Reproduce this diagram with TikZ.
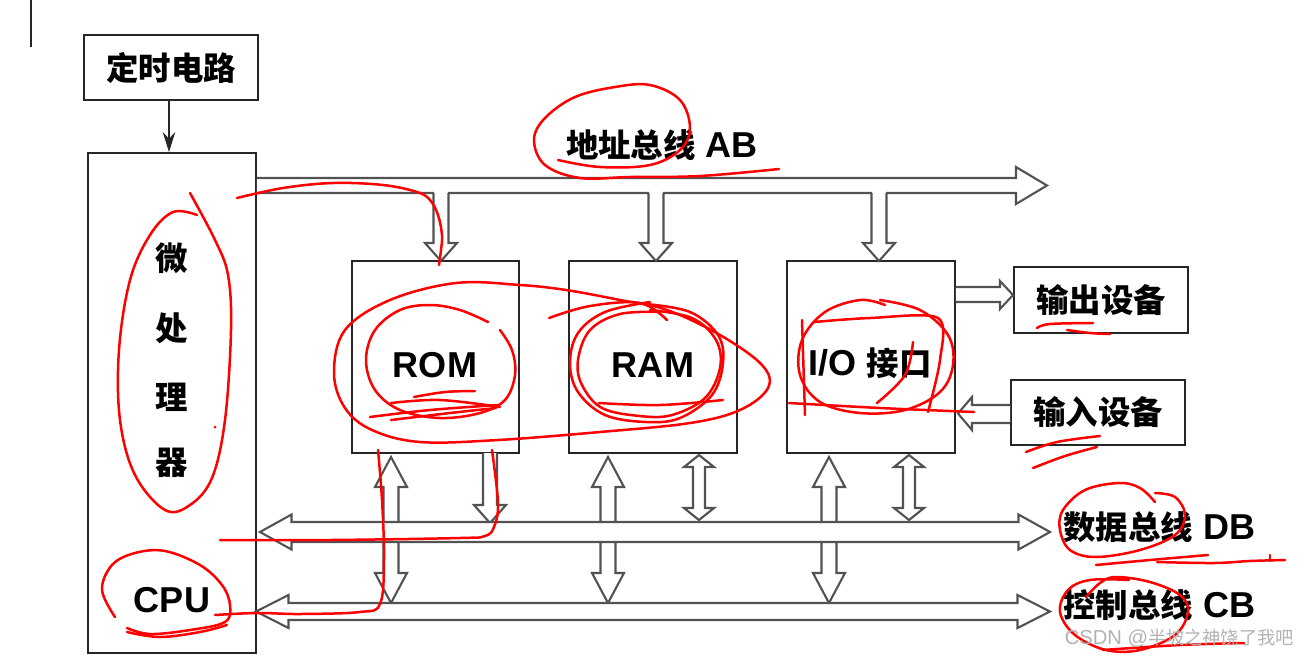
\documentclass[tikz,border=0pt]{standalone}
\usepackage{fontspec}
\setmainfont{Liberation Sans}
\newfontfamily\cjk[Scale=0.9]{Noto Sans CJK SC}
\usetikzlibrary{arrows.meta,calc}
% vertical double hollow arrow: x, top tip, bottom tip, head length, half shaft, half head
\newcommand\vdbl[6]{\filldraw[hol] (#1,#2) -- ({#1+#6},{#2+#4}) -- ({#1+#5},{#2+#4}) -- ({#1+#5},{#3-#4}) -- ({#1+#6},{#3-#4}) -- (#1,#3) -- ({#1-#6},{#3-#4}) -- ({#1-#5},{#3-#4}) -- ({#1-#5},{#2+#4}) -- ({#1-#6},{#2+#4}) -- cycle;}
% horizontal double hollow arrow: y, left tip, right tip, head length, half shaft, half head
\newcommand\hdbl[6]{\filldraw[hol] (#2,#1) -- ({#2+#4},{#1-#6}) -- ({#2+#4},{#1-#5}) -- ({#3-#4},{#1-#5}) -- ({#3-#4},{#1-#6}) -- (#3,#1) -- ({#3-#4},{#1+#6}) -- ({#3-#4},{#1+#5}) -- ({#2+#4},{#1+#5}) -- ({#2+#4},{#1+#6}) -- cycle;}
% open-top downward hollow arrow: x, top, head base, tip, half shaft, half head
\newcommand\vdown[6]{\filldraw[hol] ({#1-#5},#2) -- ({#1-#5},#3) -- ({#1-#6},#3) -- (#1,#4) -- ({#1+#6},#3) -- ({#1+#5},#3) -- ({#1+#5},#2);}
\newcommand\busgap[3]{\fill[white] ({#1-#3},{#2-1.8}) rectangle ({#1+#3},{#2+1.8});}
\begin{document}
\begin{tikzpicture}[x=0.02cm,y=-0.02cm,
  box/.style={draw=black!85, line width=0.038cm, fill=white, inner sep=0pt},
  lbl/.style={font=\fontsize{20.5}{24}\selectfont\bfseries, inner sep=0pt},
  hol/.style={draw=black!68, line width=0.042cm, fill=white, line join=miter},
  pen/.style={draw=red, line width=0.05cm, line cap=round, line join=round},
  wm/.style={font=\fontsize{11.5}{14}\selectfont, text=black!30, inner sep=0pt}]
\fill[white] (0,0) rectangle (1316,657);
\useasboundingbox (0,0) rectangle (1316,657);
\draw[black!85, line width=0.03cm] (31,0) -- (31,47);

% boxes
\node[box, lbl, minimum width=3.48cm, minimum height=1.3cm] (timer) at (171,67.5) {\cjk 定时电路};
\node[box, minimum width=3.36cm, minimum height=10cm] (cpu) at (172,403) {};
\node[box, minimum width=3.34cm, minimum height=3.84cm] (rom) at (435.5,357) {};
\node[box, minimum width=3.36cm, minimum height=3.84cm] (ram) at (653,357) {};
\node[box, minimum width=3.36cm, minimum height=3.84cm] (io) at (871,357) {};
\node[box, lbl, minimum width=3.48cm, minimum height=1.32cm] (out) at (1101,300) {\cjk 输出设备};
\node[box, lbl, minimum width=3.48cm, minimum height=1.3cm] (in) at (1098,412.5) {\cjk 输入设备};

% timer -> cpu
\draw[black!85, line width=0.035cm, -{Stealth[length=0.4cm,width=0.25cm]}] ($(timer.south)+(-2,0)$) -- ($(timer.south|-cpu.north)+(-2,0)$);

% address bus
\filldraw[hol] (cpu.east|-0,178) -- (1016,178) -- (1016,167) -- (1047,185.5) -- (1016,204) -- (1016,193) -- (cpu.east|-0,193);
\busgap{441}{193}{7}\vdown{441}{193}{243}{261}{7.5}{16}
\busgap{656}{193}{7}\vdown{656}{193}{243}{261}{7.5}{16}
\busgap{879}{193}{7}\vdown{879}{193}{243}{261}{7.5}{16}

% I/O <-> devices
\filldraw[hol] (io.east|-0,287) -- (1000,287) -- (1000,281) -- (out.west|-0,295) -- (1000,309) -- (1000,302) -- (io.east|-0,302);
\filldraw[hol] (in.west|-0,405) -- (972,405) -- (972,397) -- (958,413.5) -- (972,430) -- (972,423) -- (in.west|-0,423);

% vertical links to buses
\vdbl{391}{457}{603}{30}{7.5}{16}
\vdbl{608}{457}{603}{30}{7.5}{16}
\vdbl{829}{457}{603}{30}{7.5}{16}
\vdown{490}{453}{505}{523}{7}{16}
\vdbl{699}{455}{520}{12}{6}{15}
\vdbl{909}{455}{520}{12}{6}{15}

% data bus and control bus
\hdbl{532}{260}{1050}{31.5}{10}{17.5}
\hdbl{611.5}{256}{1050}{32.5}{8.5}{16.5}

% texts
\node[lbl] (c1) at (172,258) {\cjk 微};
\node[lbl] (c2) at (172,328) {\cjk 处};
\node[lbl] (c3) at (172,397) {\cjk 理};
\node[lbl] (c4) at (172,463) {\cjk 器};
\node[lbl] (cput) at (172,600) {CPU};
\node[lbl] (romt) at (435,365) {ROM};
\node[lbl] (ramt) at (653,365) {RAM};
\node[lbl] (iot) at (870,363) {I/O {\cjk 接口}};
\node[lbl] (ab) at (662,145) {{\cjk 地址总线} AB};
\node[lbl, anchor=west] (db) at (1063,527) {{\cjk 数据总线} DB};
\node[lbl, anchor=west] (cb) at (1063,605) {{\cjk 控制总线} CB};

% red hand annotations
\begin{scope}[pen]
\draw plot[smooth, tension=0.6] coordinates {(558,160) (600,167) (650,165) (680,150) (690,128) (680,100) (650,85) (615,87) (575,97) (545,118) (534,140) (545,165) (580,178) (630,177) (700,176) (779,169)};
\draw plot[smooth, tension=0.6] coordinates {(237,198) (283,188) (333,183) (383,185) (417,192) (430,200) (438,215) (442,235) (441,250) (439,265)};
\draw plot[smooth, tension=0.6] coordinates {(197,215) (173,212) (150,235) (130,280) (119,350) (120,420) (135,475) (165,510) (190,505) (212,478) (225,420) (231,330) (228,275) (215,240) (190,193)};
\fill[red] (215,427) circle[radius=0.03cm];
\draw plot[smooth, tension=0.6] coordinates {(115,617) (102,590) (112,565) (135,553) (165,551) (200,565) (222,585) (230,605) (225,622) (190,630) (150,634) (127,628)};
\draw plot[smooth, tension=0.6] coordinates {(127,632) (160,637) (200,632) (227,625)};
\draw plot[smooth, tension=0.6] coordinates {(215,615) (257,613) (300,614) (360,612) (380,604) (384,560) (382,500) (378,450)};
\draw plot[smooth, tension=0.6] coordinates {(220,540) (330,540) (460,538) (485,536) (494,527) (498,503) (492,450)};
\draw plot[smooth cycle, tension=0.6] coordinates {(334,373) (345,330) (390,300) (456,283) (520,285) (566,290) (620,300) (667,310) (720,335) (762,365) (768,388) (740,410) (690,423) (600,432) (498,440) (420,442) (372,430) (345,408)};
\draw plot[smooth, tension=0.6] coordinates {(500,330) (512,350) (515,375) (505,400) (480,413) (440,418) (400,410) (375,390) (366,360) (375,330) (400,310) (430,305) (460,310) (488,322)};
\draw plot[smooth, tension=0.6] coordinates {(391,403) (440,400) (500,407)};
\draw plot[smooth, tension=0.6] coordinates {(370,417) (430,410) (498,405)};
\draw plot[smooth, tension=0.6] coordinates {(391,420) (450,413) (496,408)};
\draw plot[smooth, tension=0.6] coordinates {(414,397) (445,392) (475,391)};
\draw plot[smooth, tension=0.6] coordinates {(549,318) (590,306) (640,303) (667,320)};
\draw plot[smooth, tension=0.6] coordinates {(646,304) (690,312) (718,335) (723,363) (712,395) (680,418) (646,422) (605,415) (578,392) (570,363) (578,333) (605,312) (650,302)};
\draw plot[smooth, tension=0.6] coordinates {(650,310) (692,318) (716,340) (720,368) (705,398) (672,415) (640,416) (602,408) (582,385) (578,360) (590,330) (620,314) (660,312)};
\draw plot[smooth, tension=0.6] coordinates {(599,403) (660,405) (723,400)};
\draw plot[smooth, tension=0.6] coordinates {(880,300) (920,310) (948,335) (953,365) (940,392) (905,410) (860,413) (820,402) (800,375) (802,340) (825,312) (860,300) (885,305)};
\draw plot[smooth, tension=0.5] coordinates {(814,322) (870,318) (938,318) (940,360) (928,412)};
\draw (802,320) -- (805,415);
\draw plot[smooth, tension=0.5] coordinates {(789,403) (880,408) (974,412)};
\draw plot[smooth, tension=0.6] coordinates {(913,342) (905,375) (877,403)};
\draw plot[smooth, tension=0.6] coordinates {(1037,328) (1050,324) (1093,323)};
\draw plot[smooth, tension=0.6] coordinates {(1067,330) (1090,333) (1110,334)};
\draw plot[smooth, tension=0.6] coordinates {(1026,452) (1057,442) (1100,436)};
\draw plot[smooth, tension=0.6] coordinates {(1033,468) (1065,456) (1097,447)};
\draw plot[smooth, tension=0.6] coordinates {(1155,502) (1140,488) (1119,483) (1085,490) (1063,510) (1060,530) (1070,550) (1096,557) (1140,550) (1175,535) (1185,515) (1175,497) (1155,493)};
\draw plot[smooth, tension=0.6] coordinates {(1096,565) (1150,560) (1208,555)};
\draw plot[smooth, tension=0.6] coordinates {(1157,562) (1214,563) (1250,561) (1285,560)};
\draw (1270,555) -- (1270,561);
\draw plot[smooth, tension=0.6] coordinates {(1086,597) (1100,583) (1116,577) (1150,582) (1180,595) (1188,612) (1175,635) (1140,650) (1106,650) (1075,635) (1060,612) (1068,590) (1090,580) (1129,580)};
\draw plot[smooth, tension=0.6] coordinates {(1103,650) (1180,645) (1244,643)};
\end{scope}

% watermark
\node[wm, anchor=east] (wmk) at (1294,638) {CSDN @{\cjk 半坡之神饶了我吧}};
\end{tikzpicture}
\end{document}
